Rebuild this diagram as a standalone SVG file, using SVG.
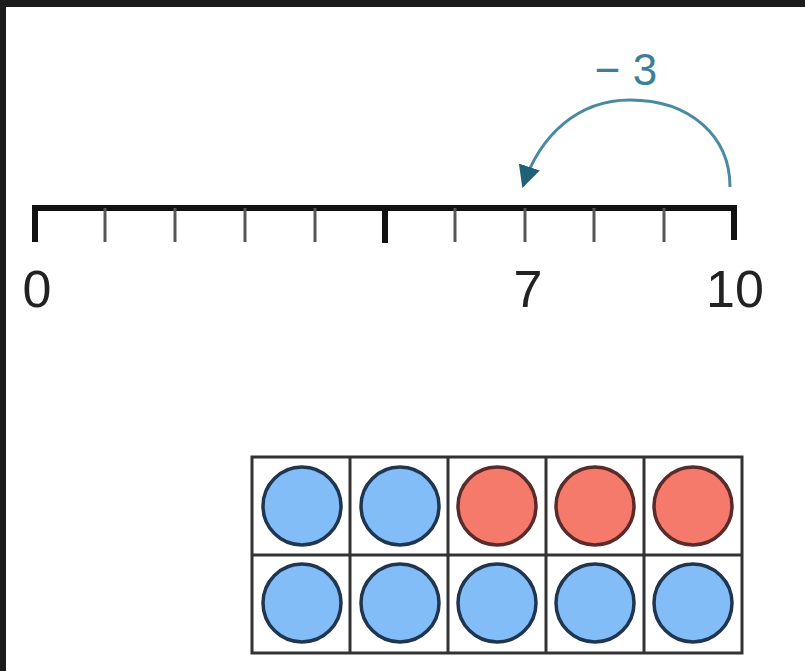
<svg xmlns="http://www.w3.org/2000/svg" width="805" height="671" viewBox="0 0 805 671">
<defs>
<style>
.num{font-family:"Liberation Sans",Arial,sans-serif;font-size:52px;fill:#222;text-anchor:middle}
.lbl{font-family:"Liberation Sans",Arial,sans-serif;font-size:44px;fill:#3d7f96;text-anchor:middle}
.major{stroke:#111;stroke-width:6;stroke-linecap:butt}
.minor{stroke:#555;stroke-width:3}
.cell{fill:none;stroke:#333;stroke-width:3}
.blue{fill:#82bdf7;stroke:#1f3550;stroke-width:3.5}
.red{fill:#f57a6c;stroke:#5a2b2b;stroke-width:3.5}
</style>
<marker id="arrow" markerWidth="24" markerHeight="24" refX="20" refY="12" orient="auto" markerUnits="userSpaceOnUse" viewBox="0 0 24 24">
<path d="M0,1 L22,12 L0,23 Z" fill="#1f6178"/>
</marker>
</defs>
<rect x="0" y="0" width="805" height="671" fill="#fff"/>
<rect x="0" y="0" width="805" height="7" fill="#1c1c1c"/>
<rect x="0" y="0" width="6" height="671" fill="#1c1c1c"/>

<g id="number-line">
<line x1="32" y1="208" x2="737" y2="208" class="major"/>
<line x1="35" y1="206" x2="35" y2="242" class="major"/>
<line x1="385" y1="206" x2="385" y2="243" class="major"/>
<line x1="734" y1="206" x2="734" y2="240" class="major"/>
<line x1="105" y1="208" x2="105" y2="242" class="minor"/>
<line x1="175" y1="208" x2="175" y2="242" class="minor"/>
<line x1="245" y1="208" x2="245" y2="242" class="minor"/>
<line x1="315" y1="208" x2="315" y2="242" class="minor"/>
<line x1="455" y1="208" x2="455" y2="242" class="minor"/>
<line x1="525" y1="208" x2="525" y2="242" class="minor"/>
<line x1="594" y1="208" x2="594" y2="242" class="minor"/>
<line x1="664" y1="208" x2="664" y2="242" class="minor"/>
<text x="37" y="307" class="num">0</text>
<text x="528" y="307" class="num">7</text>
<text x="735" y="307" class="num">10</text>
</g>

<g id="connectors">
<path d="M 730 187 C 730 136, 690 100, 630 100 C 578 100, 540 135, 523 186" fill="none" stroke="#4a8aa0" stroke-width="3" marker-end="url(#arrow)"/>
<text x="626" y="85" class="lbl">− 3</text>
</g>

<g id="ten-frame">
<rect x="252" y="457" width="490" height="196" class="cell"/>
<line x1="252" y1="555" x2="742" y2="555" class="cell"/>
<line x1="350" y1="457" x2="350" y2="653" class="cell"/>
<line x1="448" y1="457" x2="448" y2="653" class="cell"/>
<line x1="546" y1="457" x2="546" y2="653" class="cell"/>
<line x1="644" y1="457" x2="644" y2="653" class="cell"/>
<circle cx="302" cy="506" r="39" class="blue"/>
<circle cx="400" cy="506" r="39" class="blue"/>
<circle cx="497" cy="506" r="39" class="red"/>
<circle cx="595" cy="506" r="39" class="red"/>
<circle cx="693" cy="506" r="39" class="red"/>
<circle cx="302" cy="603" r="39" class="blue"/>
<circle cx="400" cy="603" r="39" class="blue"/>
<circle cx="497" cy="603" r="39" class="blue"/>
<circle cx="595" cy="603" r="39" class="blue"/>
<circle cx="693" cy="603" r="39" class="blue"/>
</g>
</svg>
